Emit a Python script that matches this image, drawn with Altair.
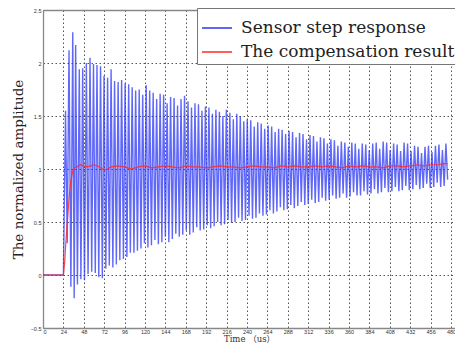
import altair as alt
import pandas as pd

SERIES = ["Sensor step response", "The compensation result"]
COLORS = ["#2b35f5", "#ff2a2a"]

x_ticks = [0, 24, 48, 72, 96, 120, 144, 168, 192, 216, 240, 264, 288, 312, 336, 360, 384, 408, 432, 456, 480]
y_ticks = [-0.5, 0, 0.5, 1, 1.5, 2, 2.5]

# Sensor step response: start + first oscillations
blue_head_t = [0, 24, 26.5, 28.5, 30.6, 32.8, 35.0, 36.7, 38.4, 40.5, 42.7, 44.6, 46.7, 48.8, 51.0, 53.0,
               55.3, 57.3, 59.4, 61.5, 63.5, 65.6, 67.7, 69.8, 71.8, 73.9, 76.0, 78.0, 80.1, 82.2, 84.2,
               86.3, 88.4, 90.4, 92.5, 94.6, 96.6, 98.7, 100.8, 102.8, 104.9, 107.0, 109.0, 111.1]
blue_head_v = [0, 0, 1.55, 0.30, 2.12, -0.11, 2.29, -0.22, 2.17, -0.09, 1.94, -0.04, 1.95, -0.05, 2.00, 0.01,
               2.05, 0.03, 1.99, 0.02, 1.98, -0.02, 1.97, -0.03, 1.88, 0.06, 1.86, 0.09, 1.94, 0.07, 1.83,
               0.10, 1.82, 0.14, 1.84, 0.15, 1.81, 0.17, 1.80, 0.21, 1.77, 0.21, 1.74, 0.23]

# Sensor step response: later peaks
peak_t = [113.2, 117.3, 121.4, 125.5, 129.6, 133.7, 137.8, 141.9, 146.0, 150.1,
          154.2, 158.3, 162.4, 166.5, 170.6, 174.7, 178.8, 182.9, 187.0, 191.1,
          195.2, 199.3, 203.4, 207.5, 211.6, 215.7, 219.8, 223.9, 228.0, 232.1,
          236.2, 240.3, 244.4, 248.5, 252.6, 256.7, 260.8, 264.9, 269.0, 273.1,
          277.2, 281.3, 285.4, 289.5, 293.6, 297.7, 301.8, 305.9, 310.0, 314.1,
          318.2, 322.3, 326.4, 330.5, 334.6, 338.7, 342.8, 346.9, 351.0, 355.1,
          359.2, 363.3, 367.4, 371.5, 375.6, 379.7, 383.8, 387.9, 392.0, 396.1,
          400.2, 404.3, 408.4, 412.5, 416.6, 420.7, 424.8, 428.9, 433.0, 437.1,
          441.2, 445.3, 449.4, 453.5, 457.6, 461.7, 465.8, 469.9, 474.0]
peak_v = [1.75, 1.70, 1.79, 1.74, 1.72, 1.66, 1.71, 1.70, 1.62, 1.68,
          1.67, 1.60, 1.66, 1.69, 1.64, 1.58, 1.62, 1.61, 1.55, 1.59,
          1.58, 1.52, 1.56, 1.54, 1.50, 1.56, 1.53, 1.47, 1.52, 1.50,
          1.45, 1.47, 1.46, 1.40, 1.44, 1.43, 1.38, 1.41, 1.40, 1.35,
          1.38, 1.37, 1.33, 1.36, 1.35, 1.30, 1.34, 1.33, 1.28, 1.32,
          1.31, 1.26, 1.30, 1.29, 1.24, 1.28, 1.27, 1.22, 1.26, 1.25,
          1.21, 1.25, 1.24, 1.19, 1.24, 1.23, 1.18, 1.24, 1.25, 1.19,
          1.26, 1.25, 1.18, 1.24, 1.23, 1.17, 1.25, 1.24, 1.17, 1.22,
          1.21, 1.15, 1.21, 1.22, 1.16, 1.22, 1.23, 1.18, 1.24]

# Sensor step response: later troughs
trough_t = [115.25, 119.35, 123.45, 127.55, 131.65, 135.75, 139.85, 143.95, 148.05, 152.15,
            156.25, 160.35, 164.45, 168.55, 172.65, 176.75, 180.85, 184.95, 189.05, 193.15,
            197.25, 201.35, 205.45, 209.55, 213.65, 217.75, 221.85, 225.95, 230.05, 234.15,
            238.25, 242.35, 246.45, 250.55, 254.65, 258.75, 262.85, 266.95, 271.05, 275.15,
            279.25, 283.35, 287.45, 291.55, 295.65, 299.75, 303.85, 307.95, 312.05, 316.15,
            320.25, 324.35, 328.45, 332.55, 336.65, 340.75, 344.85, 348.95, 353.05, 357.15,
            361.25, 365.35, 369.45, 373.55, 377.65, 381.75, 385.85, 389.95, 394.05, 398.15,
            402.25, 406.35, 410.45, 414.55, 418.65, 422.75, 426.85, 430.95, 435.05, 439.15,
            443.25, 447.35, 451.45, 455.55, 459.65, 463.75, 467.85, 471.95, 476.05]
trough_v = [0.25, 0.30, 0.26, 0.28, 0.33, 0.29, 0.31, 0.36, 0.31, 0.34,
            0.39, 0.36, 0.38, 0.42, 0.38, 0.40, 0.45, 0.42, 0.43, 0.47,
            0.44, 0.46, 0.50, 0.47, 0.48, 0.52, 0.49, 0.50, 0.54, 0.51,
            0.52, 0.56, 0.53, 0.54, 0.58, 0.56, 0.57, 0.61, 0.58, 0.60,
            0.64, 0.61, 0.62, 0.66, 0.63, 0.65, 0.69, 0.66, 0.67, 0.71,
            0.68, 0.69, 0.73, 0.70, 0.71, 0.75, 0.72, 0.73, 0.77, 0.73,
            0.74, 0.78, 0.75, 0.75, 0.79, 0.76, 0.77, 0.81, 0.77, 0.78,
            0.82, 0.78, 0.79, 0.83, 0.79, 0.80, 0.84, 0.80, 0.81, 0.85,
            0.81, 0.82, 0.86, 0.82, 0.83, 0.87, 0.83, 0.84, 0.90]

# The compensation result
red_t = [0, 24, 25.5, 27, 29, 31, 33, 35, 37,
         40, 44, 48, 52, 56, 60, 64, 68, 72, 76, 80,
         88, 96, 104, 112, 120, 128, 136, 144, 152, 160,
         168, 176, 184, 192, 200, 208, 216, 224, 232, 240,
         248, 256, 264, 272, 280, 288, 296, 304, 312, 320,
         328, 336, 344, 352, 360, 368, 376, 384, 392, 400,
         408, 416, 424, 432, 440, 448, 456, 464, 472,
         476]
red_v = [0, 0, 0.12, 0.32, 0.55, 0.76, 0.90, 0.98, 1.01,
         1.02, 1.04, 1.03, 1.02, 1.03, 1.04, 1.03, 1.01, 0.99, 1.00, 1.02,
         1.03, 1.02, 1.00, 1.02, 1.03, 1.01, 1.02, 1.03, 1.02, 1.01,
         1.03, 1.02, 1.02, 1.01, 1.02, 1.03, 1.02, 1.02, 1.01, 1.02,
         1.03, 1.02, 1.02, 1.01, 1.03, 1.02, 1.03, 1.02, 1.02, 1.03,
         1.02, 1.03, 1.02, 1.01, 1.03, 1.02, 1.03, 1.02, 1.02, 1.01,
         1.03, 1.03, 1.02, 1.03, 1.04, 1.03, 1.04, 1.04, 1.05,
         1.05]

blue = pd.DataFrame({"t": blue_head_t + peak_t + trough_t,
                     "v": blue_head_v + peak_v + trough_v})
blue["series"] = SERIES[0]
blue = blue.sort_values("t")
red = pd.DataFrame({"t": red_t, "v": red_v})
red["series"] = SERIES[1]

FRAME = "#888"

color = alt.Color("series:N", scale=alt.Scale(domain=SERIES, range=COLORS),
                  legend=alt.Legend(title=None, orient="none", legendX=154, legendY=-2,
                                    symbolType="stroke", symbolSize=900, symbolStrokeWidth=2,
                                    labelFont="DejaVu Serif", labelFontSize=17, labelColor="#222",
                                    labelOffset=8, labelLimit=0, padding=4, rowPadding=-22,
                                    fillColor="white", strokeColor="#777", cornerRadius=0))

xscale = alt.Scale(domain=[0, 484.7], nice=False, zero=False)
x_bottom = alt.X("t:Q", scale=xscale,
                 axis=alt.Axis(values=x_ticks, format="d", title="Time （us）",
                               titleFont="DejaVu Serif, Noto Sans CJK SC", titleFontSize=8.5,
                               titleFontWeight="normal", titleColor="#333", titlePadding=0,
                               labelPadding=1, domain=True, domainColor=FRAME, domainWidth=1.3))
x_top = alt.X("t:Q", scale=xscale,
              axis=alt.Axis(orient="top", labels=False, ticks=False, grid=False, title=None,
                            domain=True, domainColor=FRAME, domainWidth=1.3))
y = alt.Y("v:Q", scale=alt.Scale(domain=[-0.5, 2.5], nice=False, zero=False),
          axis=alt.Axis(values=y_ticks, format="~g", title="The normalized amplitude",
                        titleFont="DejaVu Serif", titleFontSize=13.5, titleFontWeight="normal",
                        titleColor="#222", titlePadding=5,
                        domain=True, domainColor=FRAME, domainWidth=1.3))

blue_layer = alt.Chart(blue).mark_line(strokeWidth=1.4, opacity=0.75).encode(x=x_bottom, y=y, color=color)
red_layer = alt.Chart(red).mark_line(strokeWidth=1.2, opacity=0.85).encode(x=x_top, y=y, color=color)

chart = alt.layer(blue_layer, red_layer).resolve_axis(x="independent").properties(
    width=412, height=318,
    autosize=alt.AutoSizeParams(type="none"),
    padding={"left": 35, "top": 2, "right": 0, "bottom": 18},
).configure_view(
    stroke=None
).configure_axis(
    grid=True, gridDash=[1.5, 2.5], gridColor="#444", gridOpacity=0.9, gridWidth=1,
    ticks=False,
    labelFont="Liberation Sans", labelFontSize=5.5, labelColor="#333", labelPadding=2,
)

chart.save("out.html", embed_options={"renderer": "svg", "actions": False})
